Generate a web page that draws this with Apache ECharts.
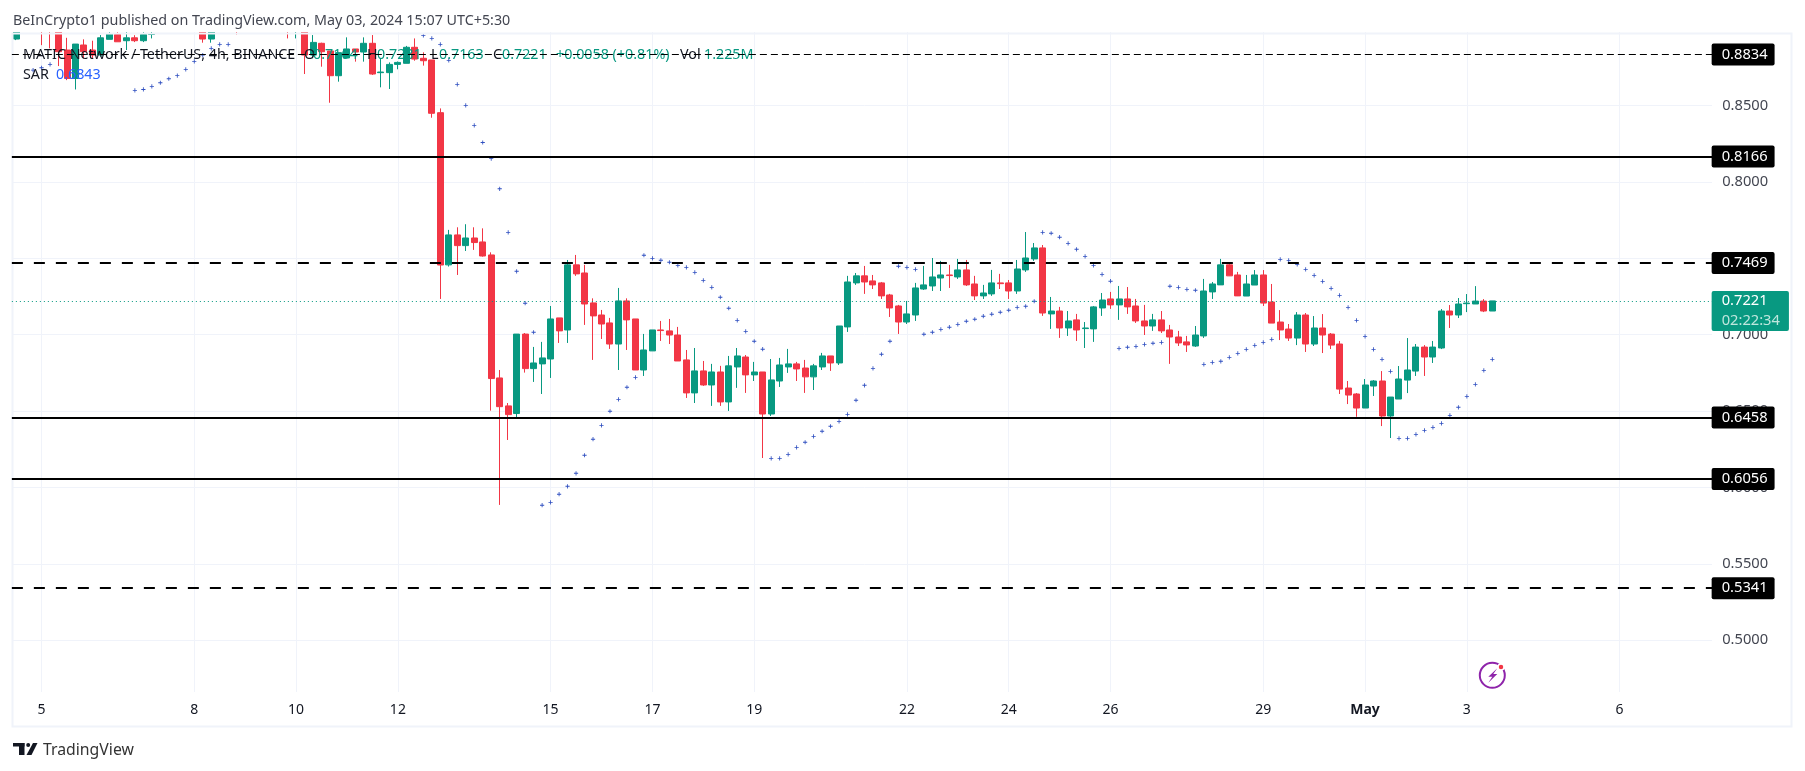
<!DOCTYPE html>
<html>
  <head>
    <meta charset="utf-8">
    <title>MATIC / TetherUS</title>
    <style media="screen">
    html, body {margin:0; padding:0; background:#fff}
    #box {width:1805px; height:771px}
    </style>
    <script src="https://cdn.jsdelivr.net/npm/echarts@6/dist/echarts.min.js" charset="utf-8"></script>
    <script>
    // one 4h candle per entry
    const openVals=[
      .8935,.9000,.9060,.9150,.9050,.9045,.8863,.8677,.8896,.8863,
      .8830,.8933,.8965,.8924,.8943,.8924,.8965,.8990,.9040,.9070,
      .9050,.9030,.9000,.8935,.9000,.9050,.9100,.9040,.9090,.9150,
      .9120,.9170,.9080,.9020,.9060,.8830,.8907,.8857,.8695,.8811,
      .8870,.8850,.8907,.8715,.8715,.8769,.8776,.8881,.8809,.8798,
      .8453,.7457,.7653,.7583,.7633,.7607,.7522,.6717,.6534,.6484,
      .7004,.6778,.6809,.6841,.7110,.7031,.7457,.7404,.7208,.7129,
      .7077,.6939,.7221,.7103,.6769,.6894,.7031,.7025,.6998,.6835,
      .6619,.6763,.6671,.6756,.6560,.6789,.6854,.6737,.6756,.6481,
      .6697,.6789,.6809,.6782,.6724,.6789,.6861,.6815,.7051,.7339,
      .7385,.7352,.7339,.7260,.7188,.7083,.7129,.7299,.7319,.7371,
      .7391,.7378,.7424,.7332,.7254,.7267,.7339,.7339,.7286,.7424,
      .7496,.7568,.7136,.7155,.7044,.7097,.7040,.7038,.7175,.7234,
      .7195,.7234,.7188,.7090,.7057,.7097,.7031,.6985,.6953,.6926,
      .6992,.7280,.7326,.7457,.7391,.7253,.7325,.7391,.7214,.7083,
      .7037,.6978,.7129,.6939,.7044,.7004,.6939,.6651,.6612,.6520,
      .6664,.6697,.6468,.6579,.6703,.6762,.6919,.6854,.6913,.7155,
      .7129,.7203,.7201,.7220,.7155
    ];
    const closeVals=[
      .9000,.9060,.9120,.9050,.9000,.8852,.8677,.8902,.8852,.8830,
      .8943,.8967,.8917,.8943,.8924,.8965,.8970,.9040,.9070,.9050,
      .9030,.9000,.8935,.9000,.9050,.9100,.9040,.9090,.9150,.9120,
      .9170,.9080,.9020,.9060,.8830,.8913,.8852,.8695,.8846,.8870,
      .8850,.8907,.8706,.8719,.8769,.8782,.8881,.8804,.8793,.8449,
      .7456,.7653,.7583,.7633,.7603,.7515,.6713,.6529,.6477,.7004,
      .6778,.6815,.6848,.7103,.7025,.7457,.7398,.7201,.7123,.7070,
      .6939,.7221,.7097,.6769,.6900,.7031,.7027,.6998,.6828,.6619,
      .6763,.6671,.6756,.6560,.6796,.6861,.6737,.6756,.6481,.6704,
      .6802,.6809,.6776,.6724,.6796,.6861,.6815,.7057,.7345,.7385,
      .7345,.7326,.7254,.7175,.7083,.7136,.7306,.7326,.7378,.7391,
      .7387,.7424,.7326,.7254,.7273,.7339,.7334,.7286,.7430,.7502,
      .7568,.7142,.7155,.7044,.7090,.7031,.7044,.7182,.7227,.7195,
      .7234,.7182,.7090,.7057,.7097,.7025,.6985,.6946,.6933,.6998,
      .7286,.7332,.7457,.7385,.7254,.7332,.7391,.7207,.7076,.7031,
      .6978,.7129,.6939,.7044,.6998,.6932,.6644,.6605,.6520,.6671,
      .6697,.6468,.6592,.6710,.6769,.6919,.6854,.6919,.7155,.7129,
      .7201,.7207,.7220,.7155,.7221
    ];
    const lowVals=[
      .8928,.8985,.9030,.8895,.8874,.8758,.8666,.8605,.8808,.8808,
      .8819,.8933,.8917,.8863,.8915,.8915,.8939,.8985,.9010,.9020,
      .9000,.8985,.8911,.8911,.8990,.9030,.8965,.9010,.9060,.9080,
      .9090,.9050,.8939,.8939,.8706,.8809,.8754,.8518,.8656,.8811,
      .8787,.8787,.8700,.8619,.8608,.8737,.8776,.8793,.8761,.8420,
      .7234,.7446,.7391,.7548,.7555,.7511,.6503,.5886,.6311,.6451,
      .6752,.6691,.6612,.6717,.6946,.6946,.7385,.7064,.6835,.6972,
      .6907,.6769,.6900,.6769,.6730,.6894,.6959,.6939,.6828,.6586,
      .6553,.6665,.6534,.6534,.6501,.6652,.6619,.6697,.6193,.6468,
      .6658,.6750,.6697,.6619,.6638,.6769,.6763,.6802,.7018,.7326,
      .7267,.7299,.7234,.7116,.7005,.7070,.7090,.7293,.7286,.7286,
      .7306,.7365,.7319,.7227,.7234,.7254,.7299,.7234,.7267,.7411,
      .7483,.7123,.7038,.6979,.6992,.6959,.6913,.6953,.7123,.7169,
      .7097,.7136,.7077,.6998,.7025,.7011,.6809,.6926,.6887,.6920,
      .6979,.7234,.7326,.7384,.7253,.7253,.7325,.7188,.7076,.6965,
      .6959,.6932,.6887,.6926,.6880,.6906,.6612,.6546,.6463,.6520,
      .6599,.6402,.6324,.6579,.6618,.6730,.6730,.6815,.6906,.7044,
      .7109,.7148,.7201,.7148,.7155
    ];
    const highVals=[
      .9030,.9090,.9150,.9180,.9100,.9070,.8943,.8902,.8933,.8924,
      .8961,.8990,.8990,.8990,.8960,.8990,.8990,.9060,.9100,.9110,
      .9080,.9060,.9050,.9050,.9080,.9130,.9140,.9120,.9180,.9200,
      .9220,.9200,.9110,.9090,.9080,.8961,.8911,.8857,.8846,.8946,
      .8870,.8946,.8961,.8809,.8782,.8788,.8890,.8939,.8848,.8798,
      .8481,.7686,.7703,.7723,.7703,.7696,.7539,.6769,.6553,.7004,
      .7011,.6920,.6953,.7188,.7110,.7489,.7522,.7457,.7238,.7162,
      .7110,.7306,.7238,.7103,.7005,.7031,.7090,.7103,.7051,.6900,
      .6913,.6828,.6809,.6796,.6861,.6913,.6867,.6822,.6756,.6841,
      .6848,.6907,.6822,.6835,.6809,.6881,.6861,.7057,.7385,.7404,
      .7450,.7391,.7345,.7267,.7195,.7221,.7339,.7450,.7502,.7483,
      .7457,.7496,.7489,.7385,.7326,.7424,.7398,.7358,.7489,.7672,
      .7600,.7587,.7247,.7182,.7155,.7136,.7083,.7188,.7273,.7280,
      .7319,.7312,.7234,.7195,.7136,.7155,.7064,.7025,.6992,.7057,
      .7365,.7345,.7496,.7467,.7411,.7391,.7423,.7423,.7332,.7161,
      .7070,.7148,.7142,.7122,.7135,.7011,.6959,.6697,.6618,.6710,
      .6703,.6762,.6592,.6795,.6978,.6939,.6932,.6959,.7168,.7194,
      .7240,.7266,.7318,.7233,.7221
    ];
    const sarVals=[
      null,null,.8732,.8747,.8769,null,null,null,null,null,
      null,null,null,null,.8599,.8605,.8625,.8649,.8675,.8695,
      .8736,.8789,.8830,.8874,.8900,.8900,null,null,null,null,
      null,null,null,null,null,null,null,null,null,null,
      null,null,null,null,null,null,null,null,.8959,.8939,
      .8900,.8795,.8638,.8501,.8370,.8258,.8152,.7955,.7670,.7415,
      .7206,.7016,.5884,.5903,.5956,.6008,.6093,.6211,.6316,.6407,
      .6499,.6577,.6656,.6721,.7520,.7500,.7487,.7474,.7454,.7441,
      .7408,.7356,.7310,.7245,.7173,.7094,.7022,.6957,.6905,.6191,
      .6191,.6217,.6263,.6296,.6335,.6368,.6401,.6433,.6479,.6571,
      .6669,.6780,.6872,.6957,.7448,.7441,.7428,.7003,.7016,.7035,
      .7049,.7068,.7088,.7101,.7121,.7134,.7147,.7160,.7179,.7186,
      .7219,.7670,.7664,.7638,.7598,.7559,.7513,.7454,.7395,.7350,
      .6911,.6918,.6924,.6937,.6944,.6950,.7317,.7310,.7297,.7291,
      .6806,.6819,.6826,.6852,.6878,.6904,.6930,.6950,.6969,.7493,
      .7486,.7460,.7428,.7388,.7349,.7303,.7257,.7179,.7094,.6989,
      .6904,.6839,.6760,.6322,.6322,.6348,.6374,.6394,.6420,.6472,
      .6525,.6596,.6675,.6767,.6839
    ];
    const dayIndex=[3,21,33,45,63,75,87,105,117,129,147,159,171,189];
    const dayLabels=['5','8','10','12','15','17','19','22','24','26','29','May','3','6'];
    const solidLevels=[0.8166,0.6458,0.6056];
    const dashedLevels=[0.7469,0.5341];
    const thinLevels=[0.8834];
    const lastPrice=0.7221;
    const countdown='02:22:34';

    const FONT='"Noto Sans", sans-serif';
    const GREEN='#089981', RED='#f23645', INK='#131722', BAND=8.484, SLOTS=201;

    window.onload=function (){
      let categories=[];
      for(let i=0;i<SLOTS;i++){
        let n=dayIndex.indexOf(i);
        categories.push(n<0 ? '' : dayLabels[n]);
      }
      let candles=openVals.map((o,i)=>[o,closeVals[i],lowVals[i],highVals[i]]);
      let showDay=(i,v)=>v!=='';

      function levelLabel(p){
        return {
          show:true, position:'end', distance:-5.5,
          formatter:p.toFixed(4),
          color:'#fff', fontFamily:FONT, fontSize:14.7,
          backgroundColor:'#000', borderRadius:2,
          padding:[4,7,3,10]
        };
      }
      let levels=[].concat(
        solidLevels.map(p=>({yAxis:p, lineStyle:{color:'#000',width:2,type:'solid'}, label:levelLabel(p)})),
        dashedLevels.map(p=>({yAxis:p, lineStyle:{color:'#000',width:2,type:[11,11]}, label:levelLabel(p)})),
        thinLevels.map(p=>({yAxis:p, lineStyle:{color:'#000',width:1,type:[7,4]}, label:levelLabel(p)})),
        [{
          yAxis:lastPrice,
          lineStyle:{color:GREEN,width:1,type:[1,3]},
          label:{
            show:true, position:'end', distance:-5.5, offset:[0,10],
            formatter:'{a|'+lastPrice.toFixed(4)+'}\n{b|'+countdown+'}',
            backgroundColor:GREEN, borderRadius:2, padding:[0,9,0,10],
            rich:{
              a:{color:'#fff', fontFamily:FONT, fontSize:14.7, lineHeight:20},
              b:{color:'#bfe6dd', fontFamily:FONT, fontSize:14.7, lineHeight:20}
            }
          }
        }]
      );

      let txt=(x,y,text,extra)=>({type:'text', x, y, z:4, silent:true,
        style:Object.assign({text, fontFamily:FONT, fontSize:14.3, fill:INK, textVerticalAlign:'middle'}, extra||{})});
      let cover=(x,y,w,h)=>({type:'rect', z:3, silent:true, shape:{x,y,width:w,height:h}, style:{fill:'#fff'}});
      let val={fill:GREEN};

      let option={
        animation:false,
        backgroundColor:'#fff',
        textStyle:{fontFamily:FONT},
        grid:{left:11.86, top:29.1, width:BAND*SLOTS, height:687.6, containLabel:false},
        xAxis:[
          {
            type:'category', data:categories, position:'bottom', z:6,
            axisLine:{show:false}, axisTick:{show:false}, splitLine:{show:false},
            axisLabel:{
              inside:true, margin:0, interval:showDay, color:INK, fontSize:14, fontFamily:FONT,
              formatter:v=>v==='May' ? '{m|May}' : v,
              rich:{m:{fontWeight:'bold', fontSize:14, fontFamily:FONT, color:INK}}
            }
          },
          {
            type:'category', data:categories, position:'bottom',
            axisLine:{show:false}, axisTick:{show:false}, axisLabel:{show:false},
            splitLine:{show:true, alignWithLabel:true, interval:showDay, lineStyle:{color:'#f0f3fa',width:1}}
          }
        ],
        yAxis:{
          type:'value', position:'right', min:0.45, max:0.9, interval:0.05,
          axisLine:{show:false}, axisTick:{show:false},
          axisLabel:{
            margin:5, color:'#434651', fontSize:14.7, fontFamily:FONT,
            padding:[2,0,0,0],
            showMinLabel:false, showMaxLabel:false,
            formatter:v=>v.toFixed(4)
          },
          splitLine:{show:true, lineStyle:{color:'#f0f3fa',width:1}}
        },
        series:[
          {
            type:'candlestick', name:'MATICUSDT', data:candles, barWidth:6.5, xAxisIndex:0,
            itemStyle:{color:GREEN, color0:RED, borderColor:GREEN, borderColor0:RED, borderWidth:1},
            markLine:{symbol:'none', silent:true, animation:false, precision:4, data:levels}
          },
          {
            type:'scatter', name:'SAR', data:sarVals, xAxisIndex:0,
            symbol:'path://M2 0H3V2H5V3H3V5H2V3H0V2H2Z', symbolSize:4.2,
            itemStyle:{color:'#2f4fc0', opacity:1}
          }
        ],
        graphic:{elements:[
          cover(0,0,1805,32),
          cover(0,692,1805,36),
          cover(0,0,12,771),
          cover(1712,0,6,771),
          {type:'rect', z:4, silent:true, shape:{x:12.5,y:33.5,width:1779,height:693},
            style:{fill:null, stroke:'#f0f3fa', lineWidth:2}},
          txt(13,21,'BeInCrypto1 published on TradingView.com, May 03, 2024 15:07 UTC+5:30',{fill:'#434651'}),
          txt(23,55,'MATIC Network / TetherUS, 4h, BINANCE'),
          txt(304,55,'O'), txt(313,55,'0.7164',val),
          txt(367,55,'H'), txt(377,55,'0.7281',val),
          txt(431,55,'L'), txt(439,55,'0.7163',val),
          txt(493,55,'C'), txt(502,55,'0.7221',val),
          txt(556,55,'+0.0058 (+0.81%)',val),
          txt(680,55,'Vol'), txt(704,55,'1.225M',val),
          txt(23,75,'SAR'),
          txt(56,75,'0.6843',{fill:'#2962ff'}),
          // TradingView mark
          {type:'rect', z:4, silent:true, shape:{x:13,y:743,width:11.5,height:3.5}, style:{fill:INK}},
          {type:'rect', z:4, silent:true, shape:{x:19,y:743,width:5.5,height:12}, style:{fill:INK}},
          {type:'circle', z:4, silent:true, shape:{cx:28.2,cy:745,r:2}, style:{fill:INK}},
          {type:'polygon', z:4, silent:true, shape:{points:[[33,743],[37.5,743],[31.5,755],[26.5,755]]}, style:{fill:INK}},
          txt(43,750,'TradingView',{fontSize:15.8,fill:'#333'}),
          // bolt icon
          {type:'circle', z:4, silent:true, shape:{cx:1492.3,cy:675.3,r:12.5}, style:{fill:null, stroke:'#8e24aa', lineWidth:2}},
          {type:'polygon', z:4, silent:true, shape:{points:[[1497.3,668.3],[1488.3,676.7],[1492.3,676.7],[1488.3,682.7],[1497.3,674],[1493.3,674]]}, style:{fill:'#8e24aa'}},
          {type:'circle', z:4, silent:true, shape:{cx:1501,cy:667,r:3}, style:{fill:RED, stroke:'#fff', lineWidth:1.5}}
        ]}
      };

      let chart=echarts.init(document.getElementById('box'));
      chart.setOption(option);
    };
    </script>
  </head>
  <body>
    <div id="box"></div>
  </body>
</html>
